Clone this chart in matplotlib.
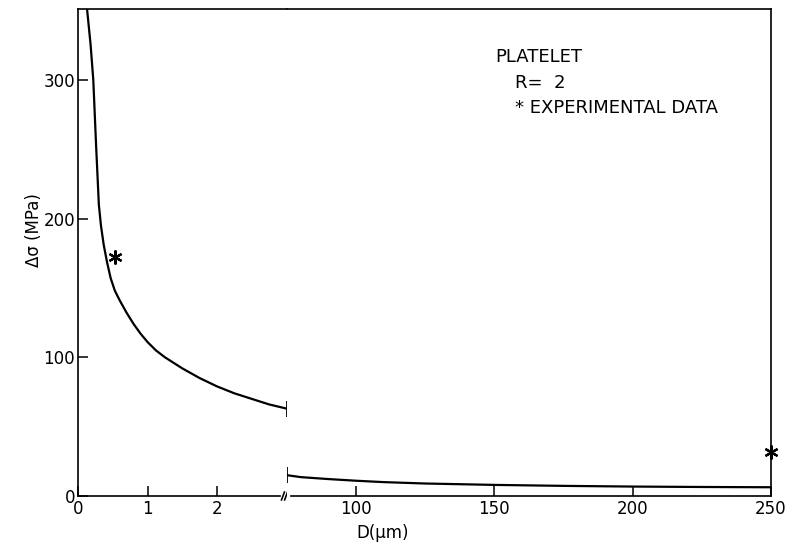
import numpy as np
import matplotlib
matplotlib.use("Agg")
import matplotlib.pyplot as plt

plt.rcParams['font.family'] = ['DejaVu Sans']

# calculated curve, small-D branch (um, MPa)
d_small = [0.13, 0.18, 0.22, 0.26, 0.30, 0.33, 0.37, 0.42, 0.47, 0.53, 0.60,
           0.70, 0.80, 0.90, 1.00, 1.12, 1.25, 1.50, 1.75, 2.00, 2.25, 2.50, 2.75, 3.00]
ds_small = [351, 326, 300, 253, 210, 195, 181, 168, 157, 148, 141,
            132, 124, 117, 111, 105, 100, 92, 85, 79, 74, 70, 66, 63]

# calculated curve, large-D branch
d_large = [75, 80, 90, 100, 110, 125, 150, 175, 200, 225, 250]
ds_large = [15.0, 13.6, 12.2, 11.0, 10.0, 9.0, 8.0, 7.3, 6.8, 6.5, 6.3]

# experimental points
exp_small_d, exp_small_s = [0.53], [172]
exp_large_d, exp_large_s = [250], [32]

xticks_small = [0, 1, 2]
xticks_large = [100, 150, 200, 250]
yticks = [0, 100, 200, 300]

W, H = 789, 544
fig = plt.figure(figsize=(W / 100, H / 100), dpi=100)
axL = fig.add_axes([78 / W, 48 / H, 208.5 / W, 487 / H])
axR = fig.add_axes([287 / W, 48 / H, 484 / W, 487 / H])

fs = 12
for ax in (axL, axR):
    ax.set_ylim(0, 351)
    for s in ax.spines.values():
        s.set_linewidth(1.2)
    ax.tick_params(direction='in', length=7.5, width=1.1, labelsize=fs, pad=3)

axL.set_xlim(0, 3.0)
axR.set_xlim(75, 250)
axL.spines['right'].set_visible(False)
axR.spines['left'].set_visible(False)
axL.spines['bottom'].set_bounds(0, 2.9)
axR.spines['bottom'].set_bounds(76.5, 250)

axL.set_xticks(xticks_small)
axL.set_yticks(yticks)
axL.tick_params(axis='y', pad=2)
axR.set_xticks(xticks_large)
axR.set_yticks([])

axL.plot(d_small, ds_small, color='black', lw=1.6,
         marker='|', markersize=11, markeredgewidth=1.3, markevery=[len(d_small) - 1])
axR.plot(d_large, ds_large, color='black', lw=1.6,
         marker='|', markersize=11, markeredgewidth=1.3, markevery=[0])

star = dict(marker=(6, 2, 0), color='black', markersize=10, markeredgewidth=1.6,
            linestyle='none', clip_on=False, zorder=5)
axL.plot(exp_small_d, exp_small_s, **star)
axR.plot(exp_large_d, exp_large_s, **star)

# break marks on the x axis
for xf in (0.983, 0.998):
    axL.plot([xf - 0.007, xf + 0.007], [-0.008, 0.008], transform=axL.transAxes,
             color='black', lw=1.2, clip_on=False)

axL.set_ylabel('Δσ (MPa)', fontsize=fs)
axL.yaxis.set_label_coords(-0.17, 0.546)
fig.text(383 / W, 1 - 533 / H, 'D(μm)', fontsize=fs, ha='center', va='center')

lfs = 13
fig.text(495 / W, 1 - 57 / H, 'PLATELET', fontsize=lfs, va='center')
fig.text(515 / W, 1 - 83 / H, 'R=  2', fontsize=lfs, va='center')
fig.text(515 / W, 1 - 108 / H, '* EXPERIMENTAL DATA', fontsize=lfs, va='center')

fig.savefig('out.png', dpi=100)
